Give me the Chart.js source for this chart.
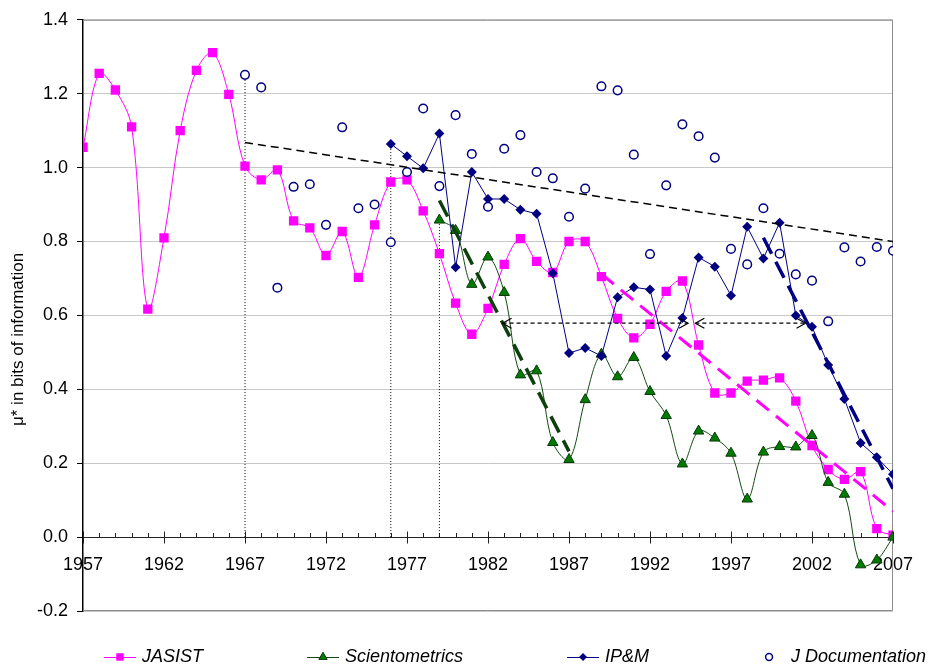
<!DOCTYPE html>
<html lang="en">
<head>
    <meta charset="UTF-8">
    <title>Entropy of journals 1957-2007</title>
    <style>
        body {
            margin: 0;
            background: #fff;
        }
    </style>
    <script src="https://cdn.jsdelivr.net/npm/chart.js"></script>
</head>
<body>
    <canvas id="muChart" width="947" height="668"></canvas>

    <script>
        // Years on the x axis
        const years = [1957, 1958, 1959, 1960, 1961, 1962, 1963, 1964, 1965, 1966,
                       1967, 1968, 1969, 1970, 1971, 1972, 1973, 1974, 1975, 1976,
                       1977, 1978, 1979, 1980, 1981, 1982, 1983, 1984, 1985, 1986,
                       1987, 1988, 1989, 1990, 1991, 1992, 1993, 1994, 1995, 1996,
                       1997, 1998, 1999, 2000, 2001, 2002, 2003, 2004, 2005, 2006, 2007];

        // Series values, one per year (null = no data for that year)
        const jasist = [1.055, 1.255, 1.21, 1.11, 0.617, 0.81, 1.10, 1.263, 1.311, 1.198,
                        1.004, 0.967, 0.994, 0.856, 0.837, 0.762, 0.827, 0.703, 0.845, 0.961,
                        0.967, 0.883, 0.767, 0.633, 0.549, 0.619, 0.738, 0.808, 0.746, 0.716,
                        0.800, 0.800, 0.705, 0.592, 0.539, 0.576, 0.665, 0.693, 0.520, 0.390,
                        0.390, 0.422, 0.425, 0.431, 0.368, 0.248, 0.183, 0.156, 0.177, 0.023, 0.005];

        const scientometrics = [null, null, null, null, null, null, null, null, null, null,
                                null, null, null, null, null, null, null, null, null, null,
                                null, null, 0.858, 0.830, 0.684, 0.758, 0.662, 0.439, 0.450, 0.256,
                                0.210, 0.372, 0.495, 0.434, 0.486, 0.394, 0.329, 0.198, 0.287, 0.268,
                                0.227, 0.103, 0.230, 0.245, 0.244, 0.275, 0.148, 0.116, -0.075, -0.062, 0.0];

        const ipm = [null, null, null, null, null, null, null, null, null, null,
                     null, null, null, null, null, null, null, null, null, 1.064,
                     1.031, 0.998, 1.092, 0.730, 0.988, 0.915, 0.915, 0.886, 0.875, 0.714,
                     0.498, 0.512, 0.490, 0.649, 0.676, 0.670, 0.490, 0.593, 0.757, 0.732,
                     0.654, 0.840, 0.754, 0.851, 0.600, 0.569, 0.466, 0.374, 0.255, 0.216, 0.170];

        const jDocumentation = [null, null, null, null, null, null, null, null, null, null,
                                1.251, 1.217, 0.675, 0.948, 0.955, 0.845, 1.109, 0.890, 0.900, 0.798,
                                0.988, 1.160, 0.950, 1.142, 1.037, 0.894, 1.051, 1.088, 0.988, 0.971,
                                0.867, 0.943, 1.220, 1.209, 1.035, 0.766, 0.952, 1.117, 1.085, 1.027,
                                0.780, 0.738, 0.890, 0.767, 0.711, 0.694, 0.584, 0.784, 0.746, 0.785, 0.775];

        // Trend lines [year, value] at both ends
        const trendDoc = [[1967, 1.068], [2007, 0.800]];
        const trendScientometrics = [[1979, 0.911], [1987, 0.232]];
        const trendJasist = [[1989, 0.712], [2007, 0.070]];
        const trendIpm = [[1999, 0.810], [2007, 0.131]];

        // Dotted start markers (year, top value)
        const startYears = [1967, 1976, 1979];
        const startTops = [1.251, 1.064, 0.858];

        // Double arrows at one level
        const arrowLevel = 0.579;
        const arrowSpans = [[1982.9, 1994.35], [1994.8, 2001.6]];

        const yTicks = [-0.2, 0.0, 0.2, 0.4, 0.6, 0.8, 1.0, 1.2, 1.4];
        const yTitle = 'μ* in bits of information';

        function toPoints(values) {
            const pts = [];
            for (let i = 0; i < years.length; i++) {
                if (values[i] !== null) pts.push({ x: years[i], y: values[i] });
            }
            return pts;
        }

        function pairPoints(pairs) {
            return pairs.map(p => ({ x: p[0], y: p[1] }));
        }

        const navy = '#000080';
        const pink = '#ff00ff';
        const darkGreen = '#0d400d';

        Chart.defaults.font.family = "'Liberation Sans', Arial, sans-serif";
        Chart.defaults.color = '#000';

        const datasets = [
            {
                label: 'JASIST', data: toPoints(jasist), order: 6,
                borderColor: pink, backgroundColor: pink, borderWidth: 1,
                pointStyle: 'rect', pointRadius: 6.6, pointBorderWidth: 0, tension: 0.35
            },
            {
                label: 'Scientometrics', data: toPoints(scientometrics), order: 5,
                borderColor: '#124a12', backgroundColor: '#007a00', borderWidth: 1,
                pointStyle: 'triangle', pointRadius: 6, pointBorderColor: '#0a3a0a',
                pointBorderWidth: 1, tension: 0.35
            },
            {
                label: 'IP&M', data: toPoints(ipm), order: 4,
                borderColor: navy, backgroundColor: navy, borderWidth: 1,
                pointStyle: 'rectRot', pointRadius: 5, pointBorderWidth: 0, tension: 0
            },
            {
                label: 'J Documentation', data: toPoints(jDocumentation), order: 3,
                showLine: false, borderColor: navy, backgroundColor: '#fff',
                pointStyle: 'circle', pointRadius: 4.3, pointBorderWidth: 1.5
            }
        ];

        // Trend lines
        [[trendDoc, '#000', 1.5, [8, 5]],
         [trendScientometrics, darkGreen, 3.5, [18, 9]],
         [trendJasist, pink, 3, [16, 9]],
         [trendIpm, navy, 3.5, [18, 9]]].forEach(t => {
            datasets.push({
                label: '', data: pairPoints(t[0]), order: 1,
                borderColor: t[1], borderWidth: t[2], borderDash: t[3],
                pointRadius: 0, tension: 0
            });
        });

        // Vertical dotted start lines
        startYears.forEach((yr, i) => {
            datasets.push({
                label: '', data: [{ x: yr, y: 0 }, { x: yr, y: startTops[i] }], order: 8,
                borderColor: '#000', borderWidth: 1, borderDash: [1, 2],
                pointRadius: 0, tension: 0
            });
        });

        // Dashed arrow shafts
        arrowSpans.forEach(s => {
            datasets.push({
                label: '', data: [{ x: s[0], y: arrowLevel }, { x: s[1], y: arrowLevel }], order: 0,
                borderColor: '#000', borderWidth: 1.2, borderDash: [4, 3],
                pointRadius: 0, tension: 0
            });
        });

        // Gray plot-area border (top, right, bottom)
        const plotBorder = {
            id: 'plotBorder',
            beforeDatasetsDraw(chart) {
                const a = chart.chartArea, c = chart.ctx;
                c.save();
                c.strokeStyle = '#8c8c8c';
                c.lineWidth = 1;
                c.beginPath();
                c.moveTo(a.left, a.top + 0.5);
                c.lineTo(a.right - 0.5, a.top + 0.5);
                c.lineTo(a.right - 0.5, a.bottom - 0.5);
                c.lineTo(a.left, a.bottom - 0.5);
                c.stroke();
                c.restore();
            }
        };

        // Tick marks on the zero axis: minor ones point up, every fifth year crosses
        const yearTicks = {
            id: 'yearTicks',
            beforeDatasetsDraw(chart) {
                const x = chart.scales.x, y = chart.scales.y, c = chart.ctx;
                const y0 = Math.round(y.getPixelForValue(0)) + 0.5;
                c.save();
                c.strokeStyle = '#222';
                c.lineWidth = 1;
                c.beginPath();
                years.forEach(yr => {
                    const px = Math.round(x.getPixelForValue(yr)) + 0.5;
                    const major = (yr - 1957) % 5 === 0;
                    c.moveTo(px, y0 - (major ? 6 : 4.5));
                    c.lineTo(px, y0 + (major ? 6 : 0));
                });
                c.stroke();
                c.restore();
            }
        };

        // Open arrow heads at both ends of each dashed span
        const arrowHeads = {
            id: 'arrowHeads',
            afterDatasetsDraw(chart) {
                const x = chart.scales.x, y = chart.scales.y, c = chart.ctx;
                const py = y.getPixelForValue(arrowLevel);
                c.save();
                c.strokeStyle = '#000';
                c.lineWidth = 1.2;
                arrowSpans.forEach(s => {
                    const a = x.getPixelForValue(s[0]);
                    const b = x.getPixelForValue(s[1]);
                    c.beginPath();
                    c.moveTo(a + 9, py - 5);
                    c.lineTo(a, py);
                    c.lineTo(a + 9, py + 5);
                    c.moveTo(b - 9, py - 5);
                    c.lineTo(b, py);
                    c.lineTo(b - 9, py + 5);
                    c.stroke();
                });
                c.restore();
            }
        };

        // Y axis title, sitting a little below the middle of the plot like the original
        const axisTitle = {
            id: 'axisTitle',
            afterDraw(chart) {
                const a = chart.chartArea, c = chart.ctx;
                c.save();
                c.translate(18, (a.top + a.bottom) / 2 + 24);
                c.rotate(-Math.PI / 2);
                c.font = '17px "Liberation Sans", Arial, sans-serif';
                c.textAlign = 'center';
                c.textBaseline = 'middle';
                c.fillStyle = '#000';
                c.fillText(yTitle, 0, 0);
                c.restore();
            }
        };

        // Legend row under the plot, keys drawn like the series
        const legendRow = {
            id: 'legendRow',
            afterDraw(chart) {
                const c = chart.ctx;
                const rowY = 657;
                const keyW = 32, textGap = 6, itemGap = 104;
                let cx = 104;
                c.save();
                c.font = 'italic 18px "Liberation Sans", Arial, sans-serif';
                c.textBaseline = 'middle';
                c.fillStyle = '#000';
                chart.data.datasets.slice(0, 4).forEach(ds => {
                    const mid = cx + keyW / 2;
                    if (ds.showLine !== false) {
                        c.strokeStyle = ds.borderColor;
                        c.lineWidth = 1;
                        c.beginPath();
                        c.moveTo(cx, rowY + 0.5);
                        c.lineTo(cx + keyW, rowY + 0.5);
                        c.stroke();
                    }
                    c.fillStyle = ds.backgroundColor;
                    c.strokeStyle = ds.pointBorderColor || ds.borderColor;
                    c.lineWidth = ds.pointBorderWidth;
                    Chart.helpers.drawPoint(c, {
                        pointStyle: ds.pointStyle,
                        radius: ds.pointRadius * 0.8,
                        rotation: 0,
                        borderWidth: ds.pointBorderWidth
                    }, mid, rowY);
                    c.fillStyle = '#000';
                    c.fillText(ds.label, cx + keyW + textGap, rowY);
                    cx += keyW + textGap + c.measureText(ds.label).width + itemGap;
                });
                c.restore();
            }
        };

        new Chart(document.getElementById('muChart'), {
            type: 'line',
            data: { datasets: datasets },
            options: {
                responsive: false,
                animation: false,
                layout: { padding: { left: 0, right: 54, top: 17, bottom: 57 } },
                plugins: {
                    legend: { display: false },
                    tooltip: { enabled: false }
                },
                scales: {
                    x: {
                        type: 'linear',
                        position: { y: 0 },
                        min: 1957,
                        max: 2007,
                        ticks: {
                            stepSize: 1,
                            autoSkip: false,
                            maxRotation: 0,
                            padding: 17,
                            font: { size: 18 },
                            callback: v => ((v - 1957) % 5 === 0 ? String(v) : '')
                        },
                        grid: { drawOnChartArea: false, drawTicks: false },
                        border: { color: '#222', width: 1 }
                    },
                    y: {
                        min: -0.2,
                        max: 1.4,
                        afterBuildTicks: s => { s.ticks = yTicks.map(v => ({ value: v })); },
                        ticks: {
                            padding: 9,
                            font: { size: 18 },
                            callback: v => v.toFixed(1)
                        },
                        grid: { color: '#c8c8c8', tickLength: 6, tickColor: '#000' },
                        border: { color: '#000', width: 1.5 },
                        afterFit: s => { s.width = 83; }
                    }
                }
            },
            plugins: [plotBorder, yearTicks, arrowHeads, axisTitle, legendRow]
        });
    </script>
</body>
</html>
